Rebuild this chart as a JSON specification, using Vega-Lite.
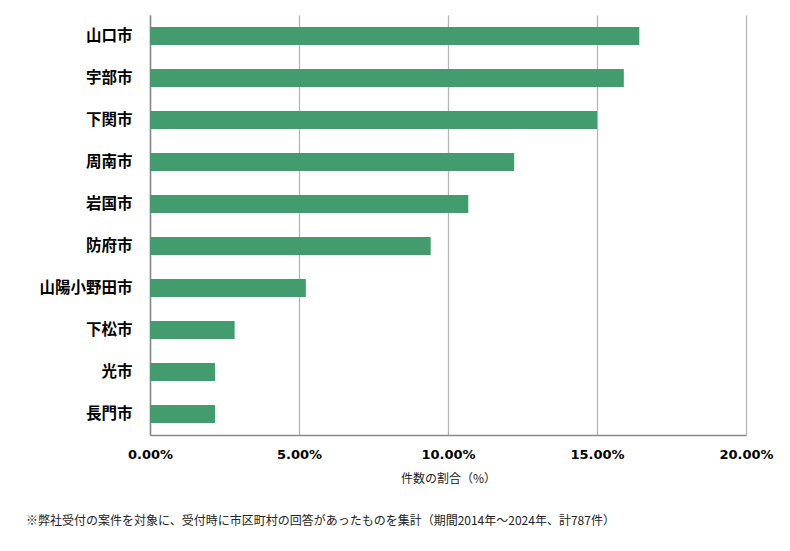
{
  "$schema": "https://vega.github.io/schema/vega-lite/v6.json",
  "width": 596,
  "height": 420,
  "padding": {"left": 25, "top": 15, "right": 10, "bottom": 10},
  "background": "white",
  "data": {
    "values": [
      {"city": "山口市", "share": 0.1642},
      {"city": "宇部市", "share": 0.1590},
      {"city": "下関市", "share": 0.1500},
      {"city": "周南市", "share": 0.1222},
      {"city": "岩国市", "share": 0.1068},
      {"city": "防府市", "share": 0.0942},
      {"city": "山陽小野田市", "share": 0.0523},
      {"city": "下松市", "share": 0.0284},
      {"city": "光市", "share": 0.0218},
      {"city": "長門市", "share": 0.0218}
    ]
  },
  "title": {
    "text": "※弊社受付の案件を対象に、受付時に市区町村の回答があったものを集計（期間2014年～2024年、計787件）",
    "orient": "bottom",
    "anchor": "start",
    "frame": "bounds",
    "font": "Noto Sans CJK JP",
    "fontSize": 12,
    "fontWeight": "normal",
    "color": "#222222",
    "offset": 32,
    "dx": -13
  },
  "mark": {"type": "bar", "color": "#439C6D", "size": 18},
  "encoding": {
    "y": {
      "field": "city",
      "type": "nominal",
      "sort": null,
      "scale": {"paddingInner": 0, "paddingOuter": 0},
      "axis": {
        "title": null,
        "labelFont": "Noto Sans CJK JP",
        "labelFontSize": 15.5,
        "labelFontWeight": "bold",
        "labelColor": "#000000",
        "labelPadding": 18,
        "ticks": false,
        "domainColor": "#888888",
        "domainWidth": 1.5
      }
    },
    "x": {
      "field": "share",
      "type": "quantitative",
      "scale": {"domain": [0, 0.2], "nice": false},
      "axis": {
        "values": [0, 0.05, 0.1, 0.15, 0.2],
        "format": ".2%",
        "title": "件数の割合（%）",
        "titleFont": "Noto Sans CJK JP",
        "titleFontSize": 12,
        "titleFontWeight": "normal",
        "titleColor": "#222222",
        "titlePadding": 12,
        "labelFont": "DejaVu Sans",
        "labelFontSize": 13,
        "labelFontWeight": "bold",
        "labelColor": "#000000",
        "labelPadding": 13,
        "labelFlush": false,
        "labelOverlap": false,
        "ticks": false,
        "domainColor": "#888888",
        "domainWidth": 1.5,
        "grid": true,
        "gridColor": "#b5b5b5",
        "gridWidth": 1.3
      }
    }
  },
  "config": {"view": {"stroke": null}}
}
